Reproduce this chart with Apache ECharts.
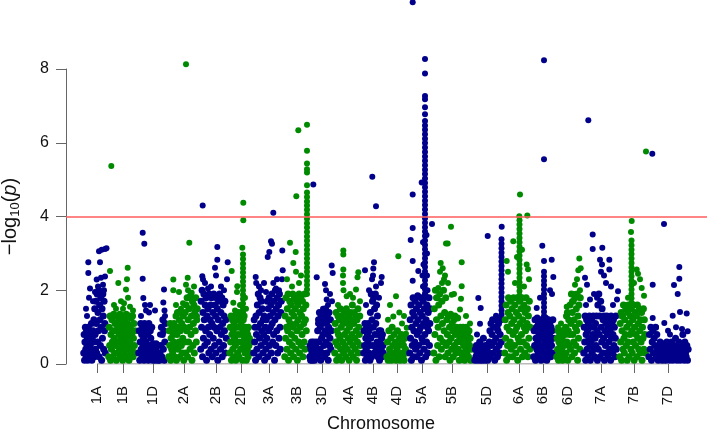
<!DOCTYPE html>
<html><head><meta charset="utf-8">
<script src="https://cdn.jsdelivr.net/npm/echarts@6/dist/echarts.min.js"></script>
<style>html,body{margin:0;padding:0;background:#fff}#c{width:707px;height:432px}</style>
</head><body><div id="c"></div>
<script>
// ---- chromosome layout (cumulative genome position units) ----
const chromNames = ['1A','1B','1D','2A','2B','2D','3A','3B','3D','4A','4B','4D','5A','5B','5D','6A','6B','6D','7A','7B','7D'];
const tickPos    = [31,57,87,118,150,175,203,231,256,283,307,331,356,386,421,453,477,502,535,568,602];
const chromStart = [16,41,71,101,133,162,186,217,242,267,296,319,342,366,407,437,466,489,516,552,581];
const chromEnd   = [41,71,101,133,162,186,217,242,267,296,319,342,366,407,437,466,489,516,552,581,624];
const threshold = 4;
const axisMax = 8;

// ---- -log10(p) values of the SNPs in order along each chromosome (dense body) ----
const base1A = [0.3,0.8,0.1,0.6,1.0,0.4,0.2,0.9,0.5,0.7,0.1,1.0,0.3,0.6,0.8,0.2,0.5,0.9,0.4,1.1,0.1,0.7,0.3,0.9,0.6,1.2,0.2,1.5,0.8,0.4,1.7,1.1,0.3,1.9,0.6,1.4,0.9,2.0,0.2,1.6,1.2,0.5,1.8,1.0,0.1,1.5,0.7,1.9,1.3,0.4,1.7,0.9,1.1,0.3];
const base1B = [0.2,1.0,0.5,1.3,0.1,0.8,0.4,1.2,0.6,0.9,0.2,1.35,0.7,0.3,1.1,0.5,0.9,0.1,1.3,0.6,1.0,0.3,1.2,0.8,0.4,1.35,0.2,0.7,1.1,0.5,0.9,0.1,1.3,0.6,1.0,0.3,1.2,0.8,0.4,1.35,0.2,0.7,1.1,0.5,0.9,0.1,1.3,0.6,1.0,0.3,1.25,0.8,0.4,1.3,0.2,0.7,1.1,0.5,0.9,0.3];
const base1D = [0.3,0.9,0.1,0.6,1.1,0.4,0.8,0.2,1.0,0.5,0.7,0.1,1.1,0.3,0.9,0.6,0.2,1.0,0.4,0.8,0.1,1.1,0.5,0.3,0.9,0.7,0.2,1.0,0.4,0.1,0.55,0.3,0.2,0.5,0.1,0.4,0.55,0.2,0.3,0.5,0.1,0.3,0.2,0.1,0.3,0.2,0.5,1.0,0.2,0.8,1.2,0.4,0.9,0.1,0.6,1.1];
const base2A = [0.2,0.9,0.5,1.1,0.1,0.7,0.4,1.0,0.3,0.8,0.6,1.1,0.2,0.9,0.5,1.3,0.1,0.8,1.4,0.4,1.0,0.6,1.2,0.2,0.9,1.4,0.5,1.1,0.3,0.7,1.3,0.1,1.0,0.6,1.4,0.3,1.6,0.9,1.8,0.2,1.2,0.6,1.5,1.0,0.4,1.85,0.8,1.3,0.1,1.7,0.5,1.1,1.6,0.3,1.4,0.9,1.8,0.6,1.2,1.5];
const base2B = [0.4,1.7,1.0,2.0,0.2,1.4,0.7,1.9,1.2,0.5,1.6,0.9,1.8,0.1,1.3,0.6,1.5,1.0,0.3,1.9,0.8,1.2,1.6,0.4,1.8,1.1,0.2,1.4,0.7,1.9,1.0,0.5,1.6,1.3,0.3,1.8,0.9,1.5,0.1,1.2,1.7,0.6,1.9,1.0,0.4,1.4,0.8,1.8,0.2,1.1,1.6,0.5,1.3,0.9,1.7,0.3,1.2,0.7];
const base2D = [0.3,1.0,0.6,1.3,0.1,0.8,1.2,0.4,0.9,0.2,1.1,0.7,1.3,0.5,0.1,1.0,0.6,1.2,0.3,0.8,1.4,0.2,1.0,0.6,1.3,0.4,1.1,0.8,1.4,0.1,0.9,1.2,0.5,1.3,0.7,0.3,1.0,0.6,0.1,0.9,0.4,0.8,0.2,1.0,0.5,0.7,0.3,0.6];
const base3A = [0.3,1.2,0.6,1.0,0.1,1.3,0.8,0.4,1.6,1.0,1.9,0.2,1.4,0.7,1.8,1.1,0.5,1.7,0.9,1.5,0.3,1.2,0.8,1.3,0.1,0.6,1.0,0.4,1.2,0.7,1.7,0.2,1.5,0.9,1.8,0.5,1.3,1.0,1.6,0.3,1.9,1.1,0.6,1.4,0.8,1.7,0.1,1.2,2.0,0.5,1.5,0.9,1.8,0.3,1.3,1.6,0.7,1.9,1.0,0.4,1.4,1.7];
const base3B = [0.2,1.3,0.7,1.8,1.0,0.4,1.5,0.9,1.9,0.1,1.2,0.6,1.7,1.1,0.3,1.6,0.8,1.4,0.5,1.9,1.0,0.2,1.3,1.8,0.7,1.5,0.4,1.1,1.7,0.9,0.1,1.6,1.2,0.6,1.9,0.3,1.4,1.0,1.8,0.5,1.3,0.8,1.7,0.2,1.5,1.1,0.6,1.9,0.4,1.2,1.6,0.9];
const base3D = [0.2,0.5,0.1,0.4,0.6,0.3,0.1,0.5,0.2,0.6,0.4,0.1,0.3,0.5,0.2,0.6,0.4,0.3,0.9,0.2,1.2,0.6,1.4,0.4,1.0,0.1,1.3,0.7,1.1,0.3,0.8,1.4,0.5,1.2,0.2,0.9,1.5,0.6,1.1,0.3,1.3,0.8,0.1,1.0,1.4,0.5,0.7,1.2,0.4,0.9];
const base4A = [0.3,1.1,0.6,1.4,0.1,0.9,0.5,1.3,0.8,0.2,1.2,0.7,1.5,0.4,1.0,0.1,1.3,0.6,1.1,0.3,1.4,0.8,0.5,1.2,0.2,1.5,0.9,0.4,1.1,0.7,1.3,0.1,1.0,0.6,1.4,0.3,1.2,0.8,1.6,0.5,0.2,1.1,1.4,0.7,0.4,1.3,0.9,0.1,1.2,0.6,1.5,0.3,1.0,0.8,1.3,0.5];
const base4B = [0.3,0.9,0.5,1.1,0.1,0.7,0.4,1.0,0.2,0.8,0.6,1.1,0.3,0.9,0.5,0.1,1.4,0.7,1.9,0.2,1.2,1.7,0.5,1.0,1.8,0.3,1.5,0.8,1.9,1.1,0.4,1.6,0.6,1.3,0.2,0.8,0.5,0.9,0.1,0.6,0.3,0.9,0.4,0.7,0.2,0.8,0.5,0.3];
const base4D = [0.2,0.6,0.1,0.9,0.4,0.3,0.7,0.1,1.0,0.5,0.2,0.8,0.3,0.6,0.1,0.4,0.9,0.2,0.5,0.7,0.1,0.3,0.8,0.6,0.2,0.5,0.1,0.7,0.4,0.3];
const base5A = [0.3,1.2,0.7,1.6,0.1,1.0,0.5,1.4,1.8,0.2,0.9,1.3,0.6,1.7,0.4,1.1,1.5,0.2,0.8,1.85,1.2,0.5,1.6,0.9,0.3,1.4,1.0,1.8,0.1,0.7,1.3,0.6,1.7,1.1,0.4,1.5,0.8,1.85,0.2,1.2,0.6,1.6,1.0,0.3,1.4,0.9,1.8,0.5,1.1,1.5];
const base5B = [0.3,1.5,0.8,2.0,0.1,1.2,1.8,0.5,1.0,1.6,0.2,1.9,0.7,1.3,0.4,1.7,1.1,0.6,2.0,0.9,1.4,0.2,1.8,0.5,1.2,0.8,0.3,1.3,0.6,1.0,0.1,1.35,0.7,0.4,1.1,0.9,0.2,1.2,0.5,1.3,0.8,0.3,1.0,0.6,1.25,0.4,0.9,0.1,0.7,1.0,0.3,0.6,0.8,0.2,1.0,0.5,0.9,0.1,0.7,0.4,1.0,0.3,0.8,0.6,0.2,0.9,0.5,0.7,0.1,0.4];
const base5D = [0.1,0.4,0.2,0.5,0.3,0.1,0.45,0.2,0.3,0.6,0.1,0.4,0.2,0.5,0.1,0.3,0.7,0.2,0.4,0.1,0.5,0.3,0.2,0.4,0.1,0.5,0.3,0.6,0.9,0.2,1.1,0.5,0.8,1.2,0.3,1.0,0.6,0.1,1.2,0.7,0.4,1.0,0.2,0.9,1.1,0.5,0.3,0.8,1.2,0.6];
const base6A = [0.3,1.2,0.7,1.6,0.1,1.0,0.5,1.4,1.8,0.2,0.9,1.3,0.6,1.7,0.4,1.1,1.5,0.2,0.8,1.8,1.2,0.5,1.6,0.9,0.3,1.4,1.0,1.8,0.1,0.7,1.3,0.6,1.7,1.1,0.4,1.5,0.8,1.8,0.2,1.2,0.6,1.6,1.0,0.3,1.4,0.9,1.8,0.5,1.1,1.5,0.2,1.3,0.7,1.7,0.4,1.0];
const base6B = [0.2,0.9,0.5,1.2,0.1,0.7,1.0,0.4,1.25,0.6,0.3,1.1,0.8,0.2,1.2,0.5,0.9,0.1,1.0,0.7,0.4,1.2,0.3,0.8,1.1,0.6,0.2,1.25,0.5,0.9,0.1,1.0,0.7,0.3,1.2,0.4,0.8,1.1,0.6,0.2,1.0,0.5,0.9,0.3,1.2,0.7];
const base6D = [0.2,0.7,0.4,0.9,0.1,0.6,0.3,0.8,0.5,0.2,0.9,0.4,0.7,0.1,0.6,0.3,0.9,0.5,0.2,0.8,1.0,0.3,1.3,0.6,1.4,0.1,0.9,1.2,0.5,0.8,1.6,0.4,1.1,1.9,0.2,1.4,0.8,1.7,0.6,1.2,0.3,1.8,1.0,0.5,1.5,0.9,1.9,0.1,1.3,0.7,1.6,1.1,0.4,1.8];
const base7A = [0.3,1.0,0.6,1.3,0.1,0.8,1.2,0.4,0.9,0.2,1.1,0.7,1.3,0.5,0.1,1.0,0.6,1.2,0.3,0.8,1.3,0.4,1.0,0.2,0.7,1.1,0.5,1.3,0.9,0.1,1.6,0.4,1.9,0.8,1.3,0.2,1.7,1.0,0.6,1.5,0.3,1.2,0.7,1.3,0.1,0.9,0.5,1.1,0.3,1.3,0.8,0.2,1.0,0.6,1.2,0.4,0.9,0.1,1.3,0.7,1.1,0.3,0.8,1.2,0.5,1.0,0.2,0.7,1.3,0.4];
const base7B = [0.2,1.1,0.6,1.4,0.1,0.9,1.3,0.4,1.6,0.7,0.3,1.2,0.8,1.5,0.5,1.0,0.1,1.4,0.6,1.6,0.2,1.1,0.8,1.3,0.4,1.5,0.9,0.3,1.2,0.6,1.6,0.1,1.0,1.4,0.5,0.8,1.3,0.2,1.6,0.7,1.1,0.4,1.5,0.9,0.3,1.2,0.6,1.4,0.1,1.0,0.7,1.5,0.4,1.2,0.8,0.3];
const base7D = [0.2,0.8,0.4,1.0,0.1,0.6,0.9,0.3,0.7,0.5,1.0,0.2,0.8,0.4,0.1,0.5,0.3,0.6,0.2,0.4,0.1,0.55,0.3,0.2,0.5,0.1,0.4,0.6,0.2,0.3,0.5,0.1,0.4,0.2,0.6,0.3,0.1,0.5,0.2,0.4,0.7,0.3,0.1,0.5,0.2,0.6,0.4,0.1,0.3,0.5,0.2,0.8,0.4,0.1,0.6,0.3,0.2,0.5,0.1,0.4];

// ---- individual higher SNPs: [position, -log10(p)] ----
const top1A = [[22.3,2.76],[22.3,2.47],[20,1.5],[21,1.3],[24,2.05],[23,1.8],[33,3.06],[35.7,3.1],[34,2.76],[39,3.12],[40.5,3.14],[30.7,2.29],[35,2.34],[39,2.37],[32,2.1],[37,2.15],[38,2.0],[29,1.95],[27,1.7]];
const top1B = [[44,2.52],[52.3,2.2],[61.7,2.61],[61,2.3],[60,2.02],[55,1.7],[58,1.65],[57,1.5],[48,1.6],[64,1.55],[67,1.45],[50,1.5],[62,1.8],[45.3,5.37]];
const top1D = [[76.7,3.56],[78.3,3.26],[76.7,2.31],[77.3,1.79],[79,1.6],[80,1.45],[84,1.6],[83,1.4],[75,1.3],[89,1.45],[98,2.02],[97.3,1.67],[99,1.3],[94,0.8],[98.5,1.45]];
const top2A = [[120,8.13],[107.3,2.29],[107.3,2.0],[123.3,3.29],[121.7,2.34],[120,2.15],[113,1.95],[125.7,1.93],[126,1.75],[110,1.6],[117,1.65],[129,1.5],[131,1.3],[115,1.5],[122,2.0],[128,2.1]];
const top2B = [[136.7,4.3],[151.3,3.17],[151.3,2.83],[149,2.61],[136.3,2.38],[137,2.29],[161.7,2.76],[161,2.3],[150,2.4],[145,2.1],[155,2.1],[142,2.05],[139,2.2],[158,2.0]];
const top2D = [[165.7,2.52],[171.3,2.11],[171,1.95],[167.3,1.66],[169,1.45],[177.3,4.37],[177.3,3.9],[176.3,3.15],[174,1.6],[180,1.5],[179,1.8]];
const top3A = [[189.7,2.36],[190.2,2.2],[207.3,4.1],[205,3.33],[206,3.26],[203.3,3.04],[201.7,2.9],[207.3,2.2],[216.3,3.08],[216.7,2.54],[216,2.3],[195,2.0],[193,2.1],[200,1.95],[210,2.05],[213,2.0],[198,2.2],[211,2.3]];
const top3B = [[224,3.29],[229.7,3.04],[227.3,2.74],[230,2.5],[230.3,4.55],[221,2.3],[235,2.4],[233,2.2],[226,2.1],[232.3,6.34],[241,6.49],[241,5.78],[241,5.44],[241,5.28],[241,5.19],[241,4.85]];
const top3D = [[247.3,4.87],[250.7,2.35],[259,2.17],[260,2.0],[260.7,1.75],[265.7,2.67],[266.7,2.47],[264,1.9],[262,1.6],[255,1.3],[252,1.1],[257,1.5],[266,1.7]];
const top4A = [[277.3,3.08],[277.3,2.97],[277.3,2.56],[277,2.4],[292.3,2.49],[291.5,2.35],[290,2.02],[280.7,1.84],[287,1.8],[272,1.6],[284,1.9],[277,2.2],[277.5,2.0],[294,1.7]];
const top4B = [[310,4.28],[306.3,5.08],[308,2.76],[307.3,2.59],[315.7,2.36],[315,2.2],[299,2.54],[307,2.4],[306,2.3],[303,2.0],[310,2.1],[313,1.8],[300,1.6]];
const top4D = [[332.3,2.92],[330,1.84],[327.3,1.29],[333.3,1.4],[324,1.6],[340.7,0.98],[340,0.82],[322,1.2],[336,1.1],[338,1.3]];
const top5A = [[346.7,9.81],[346.7,4.6],[346.7,3.69],[344.7,3.36],[346.7,2.79],[346.7,2.26],[366,3.8],[352.3,2.52],[355.7,4.92],[357,3.3],[361,3.0],[357.5,2.7],[361,2.4],[357,2.1],[361.5,2.0],[356.5,2.4],[360.5,3.5]];
const top5B = [[385,3.72],[380,3.27],[381.7,3.27],[395.7,2.76],[374.7,2.74],[376.7,2.6],[374,2.5],[372.3,2.06],[385.7,1.88],[395.7,2.11],[395,1.77],[394,1.48],[378,2.3],[382,2.2],[388,1.9],[370,1.8],[400,1.3],[404,1.1],[376,2.2],[379,2.4]];
const top5D = [[421.7,3.47],[412.3,1.79],[414.7,1.52],[414,1.09],[430,1.31],[432,1.25],[429,1.0],[411,0.8],[435.7,3.72]];
const top6A = [[454,4.6],[453.3,4.01],[461.3,4.03],[447.3,3.33],[440.7,2.79],[442,2.5],[460.7,2.7],[462,2.57],[463,2.3],[449,2.2],[458,2.1],[451,2.9],[456,3.1]];
const top6B = [[478,8.24],[478,5.55],[476.3,3.21],[478,2.79],[485.7,2.83],[487.3,2.36],[470.7,1.52],[484,2.0],[486,1.9],[474,1.8]];
const top6D = [[513.3,2.86],[512.3,2.54],[514.7,2.6],[500.7,1.55],[502,1.4],[509,2.15],[511,2.3],[508,1.9],[514,2.0],[506,1.7],[495,1.1],[492,1.0]];
const top7A = [[522.3,6.61],[526.7,3.51],[526.7,3.12],[536.3,3.15],[534,2.83],[536,2.7],[543.3,2.83],[543.3,2.56],[552,1.97],[551,1.75],[519,2.34],[521,2.15],[524,1.75],[520,1.6],[538,2.4],[535,2.5],[540,2.2],[528,1.9],[531,1.8],[547,1.6],[545,2.1]];
const top7B = [[580,5.76],[565.7,3.88],[565,3.58],[570.7,2.56],[572,2.45],[575.7,2.06],[578,1.85],[555.7,1.29],[560,1.6],[568,2.2],[562,1.8],[574,2.3]];
const top7D = [[586.3,5.7],[598,3.8],[613.3,2.63],[613.3,2.31],[608,2.14],[611.7,1.9],[586.7,2.15],[586.7,1.25],[598.3,1.11],[606.7,1.31],[614,1.41],[620.7,1.37],[621.7,0.89],[590,1.0],[602,0.9],[616,0.95],[604,0.8],[610,1.0]];

// ---- tightly stacked SNP clusters (peaks): position and values ----
const colPos = [null,null,null,null,null,177,null,241,null,null,null,null,359,null,435.5,453.5,478,null,null,565.5,null];
const col2D = [2.97,2.85,2.72,2.6,2.48,2.36,2.24,2.12,2.0,1.88,1.76,1.64,1.52,1.4];
const col3B = [4.65,4.53,4.41,4.3,4.18,4.06,3.94,3.82,3.7,3.58,3.46,3.34,3.22,3.1,2.98,2.86,2.74,2.62,2.5,2.38,2.26,2.14,2.02,1.9];
const col5A = [8.27,7.88,7.27,7.18,6.96,6.77,6.59,6.47,6.35,6.23,6.11,5.99,5.87,5.75,5.63,5.51,5.39,5.27,5.15,5.03,4.91,4.79,4.67,4.55,4.43,4.31,4.19,4.07,3.95,3.83,3.71,3.59,3.47,3.35,3.23,3.11,2.99,2.87,2.75,2.63,2.51,2.39,2.27,2.15,2.03,1.91];
const col5D = [3.38,3.26,3.14,3.02,2.9,2.78,2.66,2.54,2.42,2.3,2.18,2.06,1.94,1.82,1.7,1.58,1.46,1.34,1.22];
const col6A = [3.9,3.78,3.66,3.54,3.42,3.3,3.18,3.06,2.94,2.82,2.7,2.58,2.46,2.34,2.22,2.1,1.98,1.86];
const col6B = [2.5,2.38,2.26,2.14,2.02,1.9,1.78,1.66,1.54,1.42,1.3];
const col7B = [3.35,3.22,3.1,2.98,2.86,2.74,2.62,2.5,2.38,2.26,2.14,2.02,1.9,1.78,1.66];

const baseArrays = [base1A,base1B,base1D,base2A,base2B,base2D,base3A,base3B,base3D,base4A,base4B,base4D,base5A,base5B,base5D,base6A,base6B,base6D,base7A,base7B,base7D];
const topArrays = [top1A,top1B,top1D,top2A,top2B,top2D,top3A,top3B,top3D,top4A,top4B,top4D,top5A,top5B,top5D,top6A,top6B,top6D,top7A,top7B,top7D];
const colArrays = [[],[],[],[],[],col2D,[],col3B,[],[],[],[],col5A,[],col5D,col6A,col6B,[],[],col7B,[]];

const BLUE = '#00008b', GREEN = '#008a00';
const FONT = '"Liberation Sans", Arial, Helvetica, sans-serif';

const series = [];
// x-axis baseline from first to last chromosome tick
series.push({
  type: 'line', data: [[tickPos[0], 0], [tickPos[tickPos.length - 1], 0]],
  symbol: 'none', silent: true, z: 1, animation: false,
  lineStyle: { color: '#777', width: 1 }
});
for (let k = 0; k < chromNames.length; k++) {
  const s = chromStart[k], e = chromEnd[k], b = baseArrays[k];
  const nBase = b.length;
  const pts = b.map((v, i) => [s + 1.5 + (i + 0.5) / nBase * (e - s - 3), v]);
  topArrays[k].forEach(p => pts.push(p));
  colArrays[k].forEach(v => pts.push([colPos[k], v]));
  series.push({
    type: 'scatter', name: chromNames[k], data: pts, symbol: 'circle',
    symbolSize: (val, params) => (params.dataIndex < nBase ? 7 : 6),
    itemStyle: { color: k % 2 === 0 ? BLUE : GREEN, opacity: 1 },
    clip: false, silent: true, z: 2, animation: false
  });
}
// significance threshold
series.push({
  type: 'scatter', data: [], silent: true, z: 5, animation: false,
  markLine: {
    silent: true, symbol: 'none', animation: false,
    label: { show: false },
    lineStyle: { color: '#ff5c5c', width: 1.5, type: 'solid' },
    data: [{ yAxis: threshold }]
  }
});

const chart = echarts.init(document.getElementById('c'), null, { renderer: 'canvas' });
chart.setOption({
  animation: false,
  backgroundColor: '#fff',
  grid: { left: 66, right: 0, top: 69, bottom: 68, containLabel: false, outerBoundsMode: 'none' },
  xAxis: {
    type: 'value', min: 0, max: 641,
    axisLine: { show: false },
    axisTick: { show: true, customValues: tickPos, length: 9, lineStyle: { color: '#666' } },
    axisLabel: {
      show: true, customValues: tickPos, rotate: 90, margin: 22, fontSize: 15,
      color: '#111', fontFamily: FONT,
      formatter: v => {
        let best = 0;
        tickPos.forEach((t, i) => { if (Math.abs(t - v) < Math.abs(tickPos[best] - v)) best = i; });
        return chromNames[best];
      }
    },
    splitLine: { show: false },
    name: 'Chromosome', nameLocation: 'middle', nameGap: 51,
    nameTextStyle: { fontSize: 18, color: '#111', fontFamily: FONT, padding: [0, 11, 0, 0] }
  },
  yAxis: {
    type: 'value', min: 0, max: axisMax, interval: 2,
    axisLine: { show: true, lineStyle: { color: '#666', width: 1 } },
    axisTick: { show: true, length: 10, lineStyle: { color: '#666' } },
    axisLabel: { color: '#111', fontSize: 16, margin: 17, fontFamily: FONT },
    splitLine: { show: false },
    name: '{t|\u2212log}{s|10}{t|(}{i|p}{t|)}', nameLocation: 'middle', nameRotate: 90, nameGap: 44,
    nameTextStyle: {
      rich: {
        t: { fontSize: 20, fontFamily: FONT, color: '#111', lineHeight: 24 },
        s: { fontSize: 13, fontFamily: FONT, color: '#111', lineHeight: 14, verticalAlign: 'bottom' },
        i: { fontSize: 20, fontFamily: FONT, color: '#111', fontStyle: 'italic', lineHeight: 24 }
      }
    }
  },
  series: series
});
</script>
</body></html>
